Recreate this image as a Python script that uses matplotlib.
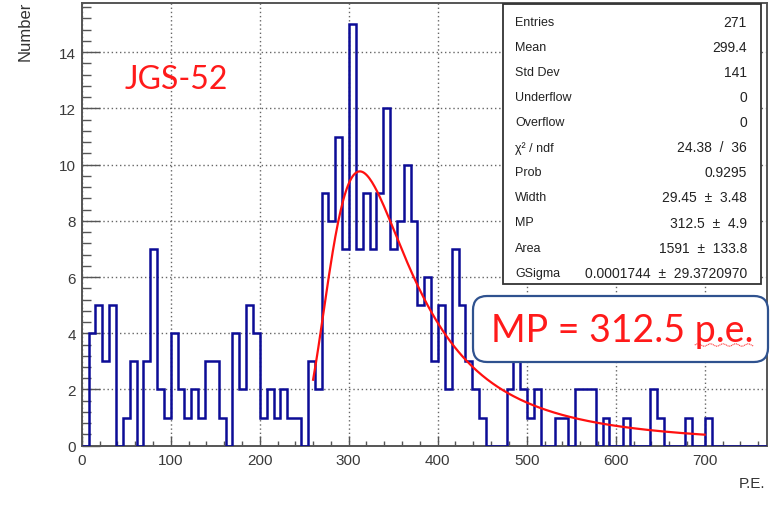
import numpy as np
import matplotlib
matplotlib.use("Agg")
import matplotlib.pyplot as plt
from matplotlib.patches import Rectangle, FancyBboxPatch
from matplotlib.ticker import MultipleLocator

# ---------------- data ----------------
counts = [0, 4, 5, 3, 5, 0, 1, 3, 0, 3,
          7, 2, 1, 4, 2, 1, 2, 1, 3, 3,
          1, 0, 4, 2, 5, 4, 1, 2, 1, 2,
          1, 1, 0, 3, 2, 9, 8, 11, 7, 15,
          7, 9, 7, 9, 12, 7, 8, 10, 8, 5,
          6, 3, 5, 2, 7, 5, 3, 2, 1, 0,
          0, 0, 2, 4, 2, 1, 2, 0, 0, 1,
          1, 0, 2, 2, 2, 0, 1, 0, 0, 1,
          0, 0, 0, 2, 1, 0, 0, 0, 1, 0,
          0, 1, 0, 0, 0, 0, 0, 0, 0, 0]
x_min, x_max = 0.0, 770.0
y_max = 15.75

fit_width = 29.45
fit_mp = 312.5
fit_area = 1591.0
fit_range = (260.0, 700.0)

x_ticks = [0, 100, 200, 300, 400, 500, 600, 700]
y_ticks = [0, 2, 4, 6, 8, 10, 12, 14]

stats_labels = ["Entries", "Mean", "Std Dev", "Underflow", "Overflow",
                "\u03c7\u00b2 / ndf", "Prob", "Width", "MP", "Area", "GSigma"]
stats_values = ["271", "299.4", "141", "0", "0", "24.38  /  36", "0.9295",
                "29.45  \u00b1  3.48", "312.5  \u00b1  4.9", "1591  \u00b1  133.8",
                "0.0001744  \u00b1  29.3720970"]

label_text = "JGS-52"
mp_text = "MP = 312.5 p.e."

# ---------------- helpers ----------------
W, H = 782, 506
def fx(px):
    return px / W
def fy(py):
    return 1 - py / H

def landau_density(lam):
    t = np.linspace(0, 40, 40001)[1:]
    out = np.empty(len(lam))
    for i, l in enumerate(lam):
        f = np.exp(-t * np.log(t) - l * t) * np.sin(np.pi * t)
        out[i] = np.trapezoid(f, t) / np.pi
    return out

# ---------------- figure ----------------
fig = plt.figure(figsize=(W / 100, H / 100), dpi=100)
fig.patch.set_facecolor("white")
ax = fig.add_axes([fx(81.7), 1 - 446.7 / H, fx(767) - fx(81.7), (446.7 - 4) / H])

edges = np.linspace(x_min, x_max, len(counts) + 1)
ax.stairs(counts, edges, color="#0c0c96", lw=1.8, zorder=3)

# Landau fit (ROOT langaus: mp shift)
mpshift = -0.22278298
mpc = fit_mp - mpshift * fit_width
xf = np.linspace(fit_range[0], fit_range[1], 300)
yf = fit_area * landau_density((xf - mpc) / fit_width) / fit_width
ax.plot(xf, yf, color="#ff1010", lw=1.6, zorder=4)

ax.set_xlim(x_min, x_max)
ax.set_ylim(0, y_max)
ax.set_xticks(x_ticks)
ax.set_yticks(y_ticks)
ax.xaxis.set_minor_locator(MultipleLocator(20))
ax.yaxis.set_minor_locator(MultipleLocator(0.4))
ax.tick_params(axis="x", which="major", direction="in", length=7, width=1, color="#555",
               labelsize=11, labelcolor="#3a3a3a", pad=5)
ax.tick_params(axis="x", which="minor", direction="in", length=3.8, width=1, color="#555")
ax.tick_params(axis="y", which="major", direction="in", length=13, width=1, color="#555",
               labelsize=11, labelcolor="#3a3a3a", pad=4)
ax.tick_params(axis="y", which="minor", direction="in", length=6.5, width=1, color="#555")
for lab in ax.get_xticklabels() + ax.get_yticklabels():
    lab.set_family("Liberation Sans")
ax.grid(True, which="major", color="#666666", lw=1.0, linestyle=(0, (1, 2)))
ax.set_axisbelow(True)
for s in ax.spines.values():
    s.set_color("#555555")
    s.set_linewidth(1.4)

fig.text(fx(25), fy(2), "Number", rotation=90, ha="center", va="top",
         family="Liberation Sans", fontsize=12, color="#333333")
fig.text(fx(765), fy(484), "P.E.", ha="right", va="center",
         family="Liberation Sans", fontsize=11, color="#333333")

# JGS label
fig.text(fx(125), fy(80), label_text, ha="left", va="center", family="Lato",
         fontsize=23, color="#ff1a1a")

# stats box
fig.add_artist(Rectangle((fx(503), fy(285)), fx(761) - fx(503), fy(5) - fy(285),
                         transform=fig.transFigure, facecolor="white",
                         edgecolor="#333333", lw=1.3, zorder=5))
row0, dy = 22.7, 25.1
for i, (lab, val) in enumerate(zip(stats_labels, stats_values)):
    yy = fy(row0 + i * dy)
    fig.text(fx(515), yy, lab, ha="left", va="center", family="Liberation Sans",
             fontsize=9, color="#222222", zorder=6)
    fig.text(fx(747), yy, val, ha="right", va="center", family="Liberation Sans",
             fontsize=10, color="#222222", zorder=6)

# MP annotation box
fig.add_artist(FancyBboxPatch((fx(473), fy(363)), fx(768) - fx(473), fy(297) - fy(363),
                              boxstyle="round,pad=0,rounding_size=0.018",
                              transform=fig.transFigure, facecolor="white",
                              edgecolor="#2f528f", lw=1.6, zorder=5,
                              mutation_aspect=W / H))
tmp = fig.text(fx(491), fy(331), mp_text, ha="left", va="center", family="Lato",
               fontsize=27, color="#ff1a1a", zorder=6)

# wavy spell-check underline under "p.e."
fig.canvas.draw()
r = fig.canvas.get_renderer()
full_bb = tmp.get_window_extent(r)
probe = fig.text(0, 0, "p.e.", family="Lato", fontsize=27)
pw = probe.get_window_extent(r).width
probe.remove()
x1 = full_bb.x1
x0 = x1 - pw
xs = np.linspace(x0, x1, 200)
ys = full_bb.y0 + 3 + 1.2 * np.sin((xs - x0) / 2.0)
fig.add_artist(plt.Line2D(xs / W, ys / H, transform=fig.transFigure,
                          color="#ff4040", lw=0.8, linestyle=(0, (1, 0.6)), zorder=6))

fig.savefig("out.png", dpi=100, facecolor="white")
